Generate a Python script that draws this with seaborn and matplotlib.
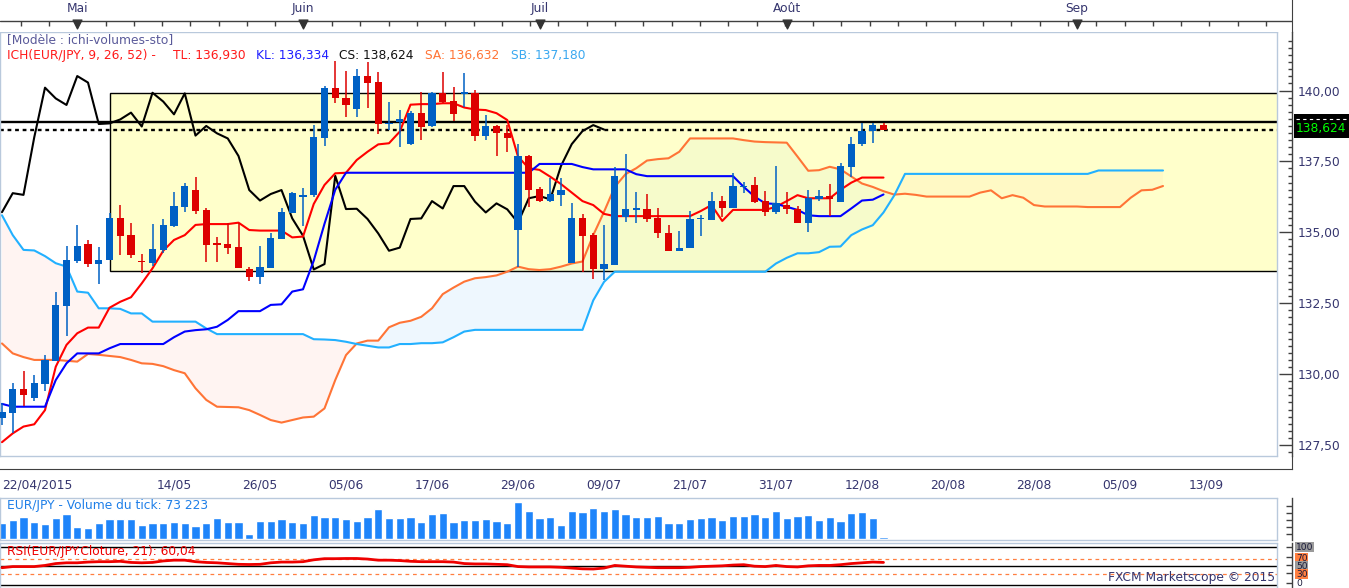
import numpy as np
import matplotlib
matplotlib.use("Agg")
import matplotlib.pyplot as plt
from matplotlib.patches import Rectangle
from matplotlib.lines import Line2D
from matplotlib.ticker import FuncFormatter, FixedLocator
import seaborn as sns

# ---------------- data ----------------
months = ["Mai", "Juin", "Juil", "Août", "Sep"]
month_pos = [7, 28, 50, 73, 100]

date_labels = ["22/04/2015", "", "14/05", "26/05", "05/06", "17/06", "29/06",
               "09/07", "21/07", "31/07", "12/08", "20/08", "28/08", "05/09", "13/09"]
date_pos = [0, 8, 16, 24, 32, 40, 48, 56, 64, 72, 80, 88, 96, 104, 112]

price_ticks = [127.5, 130.0, 132.5, 135.0, 137.5, 140.0]

opens = [128.46, 128.62, 129.46, 129.15, 129.65, 130.46, 132.41, 133.99, 134.59, 133.87,
         134.01, 135.49, 134.90, 134.00, 133.93, 134.38, 135.22, 135.90, 136.49, 135.79,
         134.59, 134.58, 134.49, 133.70, 133.43, 133.75, 134.77, 135.69, 136.23, 136.30,
         138.34, 140.10, 139.72, 139.35, 140.51, 140.31, 138.81, 138.90, 138.10, 139.20,
         138.75, 139.90, 139.63, 139.87, 139.90, 138.41, 138.75, 138.49, 135.08, 137.69,
         136.53, 136.12, 136.32, 133.91, 135.49, 134.90, 133.69, 133.85, 135.55, 135.79,
         135.82, 135.52, 134.96, 134.35, 134.43, 135.46, 135.43, 136.10, 135.87, 136.59,
         136.67, 136.11, 135.70, 135.96, 135.82, 135.34, 136.16, 136.28, 136.08, 137.31,
         138.10, 138.57, 138.78]
highs = [128.97, 129.67, 130.11, 129.97, 130.67, 132.88, 134.52, 135.26, 134.73, 134.47,
         135.67, 135.96, 135.32, 134.23, 135.29, 135.47, 136.43, 136.75, 136.94, 135.85,
         134.85, 135.32, 135.32, 133.77, 134.52, 134.99, 135.85, 136.43, 136.55, 138.80,
         140.15, 141.05, 140.70, 140.75, 141.02, 140.66, 139.61, 139.31, 139.29, 139.96,
         139.96, 140.64, 140.11, 140.61, 140.02, 139.14, 138.78, 138.78, 138.11, 137.72,
         136.61, 136.90, 136.90, 136.05, 135.65, 134.96, 135.25, 137.31, 137.76, 136.43,
         136.35, 135.84, 135.26, 135.06, 135.75, 135.61, 136.43, 136.28, 137.08, 136.79,
         136.96, 136.47, 137.34, 136.43, 135.93, 136.49, 136.49, 136.70, 137.43, 138.37,
         138.84, 138.84, 138.85]
lows = [128.21, 127.91, 128.88, 129.06, 129.42, 130.46, 131.36, 133.91, 133.77, 133.17,
        134.01, 134.20, 134.11, 133.55, 133.81, 134.28, 135.20, 135.73, 135.65, 133.96,
        133.96, 134.23, 133.73, 133.29, 133.17, 133.75, 134.77, 135.68, 135.22, 136.26,
        138.04, 139.55, 139.05, 139.05, 139.40, 138.47, 138.61, 138.02, 138.08, 138.26,
        138.70, 139.55, 138.93, 139.43, 138.23, 138.26, 137.69, 137.84, 133.79, 135.90,
        136.08, 136.08, 135.94, 133.91, 133.59, 133.34, 133.32, 133.85, 135.37, 135.32,
        135.37, 134.79, 134.35, 134.35, 134.43, 134.87, 135.43, 135.55, 135.85, 136.37,
        136.04, 135.59, 135.64, 135.63, 135.32, 135.02, 136.10, 135.59, 136.08, 136.96,
        138.06, 138.14, 138.60]
closes = [128.65, 129.47, 129.26, 129.69, 130.50, 132.44, 134.02, 134.52, 133.87, 134.02,
          135.49, 134.88, 134.20, 133.94, 134.40, 135.26, 135.93, 136.63, 135.76, 134.55,
          134.55, 134.46, 133.75, 133.43, 133.77, 134.79, 135.71, 136.38, 136.32, 138.35,
          140.10, 139.72, 139.49, 140.51, 140.28, 138.82, 138.84, 138.98, 139.22, 138.73,
          139.92, 139.61, 139.16, 139.90, 138.41, 138.75, 138.49, 138.31, 137.69, 136.49,
          136.12, 136.35, 136.49, 135.49, 134.88, 133.69, 133.88, 136.99, 135.82, 135.83,
          135.47, 134.96, 134.35, 134.46, 135.47, 135.49, 136.10, 135.84, 136.63, 136.63,
          136.08, 135.70, 136.02, 135.81, 135.34, 136.20, 136.28, 136.16, 137.34, 138.11,
          138.57, 138.78, 138.624]

tenkan = [127.60, 127.91, 128.15, 128.23, 128.73, 130.26, 131.03, 131.44, 131.64, 131.64,
          132.34, 132.55, 132.71, 133.20, 133.73, 134.35, 134.73, 134.90, 135.26, 135.29,
          135.29, 135.29, 135.34, 135.08, 135.06, 135.06, 135.06, 134.82, 134.85, 136.00,
          136.67, 137.08, 137.10, 137.55, 137.84, 138.10, 138.14, 138.55, 139.50, 139.52,
          139.52, 139.55, 139.55, 139.40, 139.33, 139.31, 139.20, 138.96, 137.67, 137.26,
          137.20, 136.96, 136.70, 136.40, 136.10, 135.96, 135.65, 135.57, 135.57, 135.57,
          135.57, 135.57, 135.57, 135.57, 135.57, 135.75, 135.96, 135.40, 135.79, 135.79,
          135.79, 135.79, 135.90, 136.10, 136.31, 136.20, 136.20, 136.20, 136.50, 136.75,
          136.93, 136.93, 136.93]
kijun = [128.95, 128.85, 128.85, 128.85, 128.85, 129.79, 130.38, 130.73, 130.73, 130.73,
         130.91, 131.06, 131.06, 131.06, 131.06, 131.06, 131.30, 131.50, 131.55, 131.58,
         131.67, 131.91, 132.22, 132.22, 132.22, 132.44, 132.46, 132.91, 132.99, 134.00,
         135.30, 136.50, 137.10, 137.10, 137.10, 137.10, 137.10, 137.10, 137.10, 137.10,
         137.10, 137.10, 137.10, 137.10, 137.10, 137.10, 137.10, 137.10, 137.10, 137.10,
         137.41, 137.41, 137.41, 137.41, 137.30, 137.22, 137.22, 137.22, 137.22, 137.05,
         136.98, 136.98, 136.98, 136.98, 136.98, 136.98, 136.98, 136.98, 136.98, 136.60,
         136.26, 136.02, 136.00, 135.90, 135.79, 135.60, 135.57, 135.57, 135.57, 135.84,
         136.12, 136.15, 136.334]
senkou_a = [131.08, 130.73, 130.60, 130.50, 130.50, 130.50, 130.47, 130.44, 130.71, 130.68,
            130.64, 130.60, 130.50, 130.38, 130.36, 130.28, 130.14, 130.03, 129.50, 129.09,
            128.85, 128.84, 128.83, 128.73, 128.56, 128.38, 128.29, 128.38, 128.47, 128.50,
            128.79, 129.79, 130.67, 131.08, 131.18, 131.18, 131.65, 131.81, 131.88, 132.02,
            132.32, 132.82, 133.05, 133.26, 133.38, 133.42, 133.48, 133.61, 133.79, 133.70,
            133.67, 133.70, 133.79, 133.90, 133.97, 134.90, 135.72, 136.60, 137.05, 137.26,
            137.53, 137.58, 137.61, 137.84, 138.31, 138.31, 138.31, 138.31, 138.31, 138.25,
            138.20, 138.18, 138.17, 138.16, 137.67, 137.17, 137.19, 137.31, 137.22, 136.97,
            136.72, 136.60, 136.45, 136.33, 136.36, 136.32, 136.26, 136.26, 136.26, 136.26,
            136.26, 136.40, 136.48, 136.20, 136.31, 136.22, 135.96, 135.91, 135.91, 135.91,
            135.91, 135.89, 135.89, 135.89, 135.89, 136.22, 136.48, 136.50, 136.632]
senkou_b = [135.60, 134.90, 134.38, 134.36, 134.16, 133.91, 133.79, 132.91, 132.87, 132.32,
            132.32, 132.30, 132.14, 132.14, 131.85, 131.85, 131.85, 131.85, 131.85, 131.61,
            131.41, 131.41, 131.41, 131.41, 131.41, 131.41, 131.41, 131.41, 131.41, 131.23,
            131.22, 131.20, 131.14, 131.06, 131.00, 130.94, 130.94, 131.06, 131.06, 131.09,
            131.09, 131.12, 131.30, 131.50, 131.56, 131.56, 131.56, 131.56, 131.56, 131.56,
            131.56, 131.56, 131.56, 131.56, 131.56, 132.60, 133.25, 133.61, 133.61, 133.61,
            133.61, 133.61, 133.61, 133.61, 133.61, 133.61, 133.61, 133.61, 133.61, 133.61,
            133.61, 133.61, 133.90, 134.10, 134.26, 134.26, 134.30, 134.49, 134.50, 134.90,
            135.10, 135.25, 135.70, 136.30, 137.06, 137.06, 137.06, 137.06, 137.06, 137.06,
            137.06, 137.06, 137.06, 137.06, 137.06, 137.06, 137.06, 137.06, 137.06, 137.06,
            137.06, 137.06, 137.18, 137.18, 137.18, 137.18, 137.18, 137.18, 137.18]

volume_k = [610, 708, 817, 634, 561, 781, 927, 451, 403, 598,
            744, 744, 744, 525, 598, 598, 634, 598, 488, 598,
            781, 634, 634, 195, 671, 671, 744, 634, 598, 891,
            817, 817, 744, 671, 817, 1110, 781, 781, 817, 634,
            927, 964, 634, 708, 708, 744, 671, 598, 1366, 1037,
            781, 817, 525, 1037, 1000, 1147, 1037, 1110, 927, 817,
            817, 854, 598, 598, 744, 781, 817, 708, 854, 854,
            927, 817, 1037, 781, 854, 891, 708, 817, 671, 964,
            1000, 781, 73.2]

rsi = [46, 49, 49, 49, 52, 57, 59, 59, 61, 62,
       62, 63, 60, 59, 60, 64, 66, 66, 62, 60,
       59, 57, 55, 54.5, 55, 59, 61, 61, 62, 67,
       70, 70, 70.5, 70.5, 69, 66, 66, 65, 63, 62,
       62, 62, 61, 57, 56, 56, 55, 54, 49, 48,
       48, 48, 47, 45, 43, 42.5, 45, 52, 50, 48,
       47, 46, 46, 46, 47, 49, 50, 51, 53, 54,
       50, 49, 52, 49, 48, 51, 52, 52, 54, 57,
       59, 61, 60.04]

rsi_levels = ["100", "70", "50", "30", "0"]
rsi_level_vals = [100, 70, 50, 30, 0]

box_start, box_low, box_high = 10, 133.64, 139.90
ref_high = 138.88
last_close = 138.624
chikou_shift = 26

# ---------------- style ----------------
sns.set_style("white")
plt.rcParams['font.family'] = ['DejaVu Sans']

W, H = 1349, 588
fig = plt.figure(figsize=(W / 100, H / 100), dpi=100)
fig.patch.set_facecolor("white")

PX = 10.75          # pixels per bar
X0 = -2 / PX        # bar index at the left pixel edge
PT = 72 / 100       # points per pixel

FRAME = "#b9c9dc"
DARK = "#404040"
TXT = "#35356e"
FS = 8.8

C_UP, C_DN = "#0060c4", "#dd0000"
C_TL, C_KL, C_SA, C_SB = "#ff0000", "#0000ff", "#ff7436", "#22b0ff"


def box(x0, y0, x1, y1):
    return [x0 / W, 1 - y1 / H, (x1 - x0) / W, (y1 - y0) / H]


def frame(ax):
    for s in ["top", "left", "bottom", "right"]:
        ax.spines[s].set_color(FRAME)
        ax.spines[s].set_linewidth(1)


# ---------------- main price panel ----------------
ax = fig.add_axes(box(0, 32, 1277, 456))
frame(ax)
xmax_main = X0 + 1277 / PX
ax.set_xlim(X0, xmax_main)
ax.set_ylim(127.112, 142.063)

ic = np.arange(len(senkou_a))
sa = np.array(senkou_a)
sb = np.array(senkou_b)
ax.fill_between(ic, sa, sb, where=sb >= sa, interpolate=True, color="#fff4f2", lw=0, zorder=1)
ax.fill_between(ic, sa, sb, where=sa > sb, interpolate=True, color="#eef7fe", lw=0, zorder=1)

ax.add_patch(Rectangle((box_start, box_low), xmax_main - box_start + 1, box_high - box_low,
                       facecolor=(1, 1, 0.6, 0.5), edgecolor="black", lw=1.0, zorder=1.5))

ax.axhline(ref_high, color="black", lw=1.7, zorder=2)
ax.axhline(last_close, color="black", lw=1.7, ls=(0, (1.6, 1.6)), zorder=2)

sns.lineplot(x=ic, y=sa, ax=ax, color=C_SA, lw=1.5, estimator=None, zorder=3)
sns.lineplot(x=ic, y=sb, ax=ax, color=C_SB, lw=1.5, estimator=None, zorder=3)

ib = np.arange(len(closes))
cl = np.array(closes)
sns.lineplot(x=ib[:len(cl) - chikou_shift], y=cl[chikou_shift:], ax=ax, color="black",
             lw=1.5, estimator=None, zorder=3)
sns.lineplot(x=ib, y=tenkan, ax=ax, color=C_TL, lw=1.5, estimator=None, zorder=3.2)
sns.lineplot(x=ib, y=kijun, ax=ax, color=C_KL, lw=1.5, estimator=None, zorder=3.2)

op = np.array(opens)
cols = [C_UP if c >= o else C_DN for o, c in zip(op, cl)]
ax.vlines(ib, lows, highs, colors=cols, lw=1.1, zorder=4)
body_lo = np.minimum(op, cl)
body_h = np.maximum(np.abs(cl - op), 0.06)
ax.bar(ib, body_h, bottom=body_lo, width=0.68, color=cols, lw=0, zorder=4.1)

ax.set_xlabel("")
ax.set_ylabel("")
ax.set_xticks([])
ax.yaxis.tick_right()
ax.spines["right"].set_color(DARK)
ax.spines["right"].set_position(("outward", 15 * PT))
ax.yaxis.set_major_locator(FixedLocator(price_ticks))
ax.yaxis.set_minor_locator(FixedLocator(np.arange(127.25, 142.0, 0.25)))
ax.yaxis.set_major_formatter(FuncFormatter(lambda v, p: f"{v:.2f}".replace(".", ",")))
ax.tick_params(axis="y", which="major", direction="in", length=13 * PT, width=1,
               color=DARK, labelsize=FS, labelcolor=TXT, pad=4)
ax.tick_params(axis="y", which="minor", direction="in", length=4.5 * PT, width=1, color=DARK)
ax.plot([1, 1], [0, 1], transform=ax.transAxes, color=FRAME, lw=1, clip_on=False, zorder=5)

# ---------------- top month band ----------------
axt = fig.add_axes(box(0, 0, 1292, 32))
axt.set_xlim(X0, X0 + 1292 / PX)
axt.set_ylim(32, 0)
for s in ["top", "left", "bottom"]:
    axt.spines[s].set_visible(False)
axt.spines["right"].set_color(DARK)
axt.set_xticks([])
axt.set_yticks([])
axt.axhline(20.5, color=DARK, lw=1)
top_ticks = np.arange(month_pos[0] % 2.633, X0 + 1292 / PX, 2.633)
axt.vlines(top_ticks, 20.5, 25.5, color=DARK, lw=1)
axt.scatter(month_pos, [24] * len(month_pos), marker="v", s=40, color="#333333", zorder=3)
for m, p in zip(months, month_pos):
    axt.text(p, 8.5, m, ha="center", va="center", fontsize=FS, color=TXT)

# ---------------- date axis ----------------
axd = fig.add_axes(box(0, 456, 1292, 469))
axd.set_xlim(X0, X0 + 1292 / PX)
axd.set_ylim(0, 1)
axd.spines["top"].set_visible(False)
axd.spines["left"].set_visible(False)
axd.spines["bottom"].set_color(DARK)
axd.spines["right"].set_color(DARK)
axd.set_yticks([])
axd.set_xticks(date_pos)
axd.set_xticklabels(date_labels)
axd.xaxis.set_minor_locator(FixedLocator(np.arange(0, 120, 1)))
axd.tick_params(axis="x", which="major", direction="in", length=12.5 * PT, width=1,
                color=DARK, labelsize=FS, labelcolor=TXT, pad=7)
axd.tick_params(axis="x", which="minor", direction="in", length=5 * PT, width=1, color=DARK)
axd.get_xticklabels()[0].set_horizontalalignment("left")
axd.patch.set_alpha(0)

# ---------------- volume panel ----------------
axv = fig.add_axes(box(0, 498, 1277, 540))
frame(axv)
sns.barplot(x=ib, y=volume_k, ax=axv, native_scale=True, color="#1e84fa",
            saturation=1, width=0.78, errorbar=None, zorder=2)
axv.set_xlim(X0, xmax_main)
axv.set_ylim(-25, 1500)
axv.set_xlabel("")
axv.set_ylabel("")
axv.set_xticks([])
axv.yaxis.tick_right()
axv.spines["right"].set_color(DARK)
axv.spines["right"].set_position(("outward", 15 * PT))
axv.set_yticks([180, 440, 700, 960, 1220])
axv.set_yticklabels([])
axv.tick_params(axis="y", direction="in", length=6 * PT, width=1, color=DARK)
axv.plot([1, 1], [0, 1], transform=axv.transAxes, color=FRAME, lw=1, clip_on=False)

# ---------------- RSI panel ----------------
axr = fig.add_axes(box(0, 543, 1277, 588))
frame(axr)
axr.set_xlim(X0, xmax_main)
axr.set_ylim(-8, 111.7)
for lvl in [100, 50, 0]:
    axr.axhline(lvl, color="black", lw=1.0, zorder=1)
for lvl in [70, 30]:
    axr.axhline(lvl, color="#ff7f40", lw=0.9, ls=(0, (3, 3)), zorder=1)
sns.lineplot(x=ib, y=rsi, ax=axr, color="#ee0000", lw=2.0, estimator=None, zorder=3)
axr.set_xlabel("")
axr.set_ylabel("")
axr.set_xticks([])
axr.yaxis.tick_right()
axr.spines["right"].set_color(DARK)
axr.spines["right"].set_position(("outward", 15 * PT))
axr.set_yticks([100, 74, 53, 32, 5])
axr.set_yticklabels([])
axr.tick_params(axis="y", direction="in", length=6 * PT, width=1, color=DARK)
axr.plot([1, 1], [0, 1], transform=axr.transAxes, color=FRAME, lw=1, clip_on=False)

label_bg = ["#9a9a9a", "#ff7f40", "#9a9a9a", "#ff7f40", None]
label_y = [100, 71, 50.5, 29, 3]
tr = axr.get_yaxis_transform()
for t, v, bg in zip(rsi_levels, label_y, label_bg):
    kw = dict(boxstyle="square,pad=0.06", fc=bg, ec="none") if bg else None
    axr.text(1296 / 1277, v, t, transform=tr, ha="left", va="center", fontsize=6.6,
             color="#1a1a3a", bbox=kw, clip_on=False, zorder=6)

# ---------------- texts ----------------
def ftxt(x, y, s, color, **kw):
    fig.text(x / W, 1 - y / H, s, color=color, fontsize=FS, ha=kw.pop("ha", "left"),
             va="center", **kw)

ftxt(7, 40, "[Modèle : ichi-volumes-sto]", "#5a5a9a")
legend_parts = [("ICH(EUR/JPY, 9, 26, 52) -", 7, "#ff1a1a"), ("TL: 136,930", 173, "#ff1a1a"),
                ("KL: 136,334", 256, "#1f1fff"), ("CS: 138,624", 339, "#111111"),
                ("SA: 136,632", 425, "#ff7436"), ("SB: 137,180", 511, "#3aa8f0")]
for s, x, c in legend_parts:
    ftxt(x, 55, s, c)

ftxt(7, 506, "EUR/JPY - Volume du tick: 73 223", "#1e7fe8")
ftxt(7, 551, "RSI(EUR/JPY.Cloture, 21): 60,04", "#ee0000")
ftxt(1275, 578, "FXCM Marketscope © 2015", "#35356e", ha="right")

# current price box
fig.patches.append(Rectangle((1294 / W, 1 - 138 / H), 55 / W, 24 / H,
                             transform=fig.transFigure, facecolor="black", edgecolor="none"))
fig.lines.append(Line2D([1296 / W, 1347 / W], [1 - 118.5 / H, 1 - 118.5 / H],
                        transform=fig.transFigure, color="white", lw=0.8, ls=(0, (3, 3))))
ftxt(1296, 128.5, "138,624", "#00ff00")

fig.savefig("out.png", dpi=100, facecolor="white")
